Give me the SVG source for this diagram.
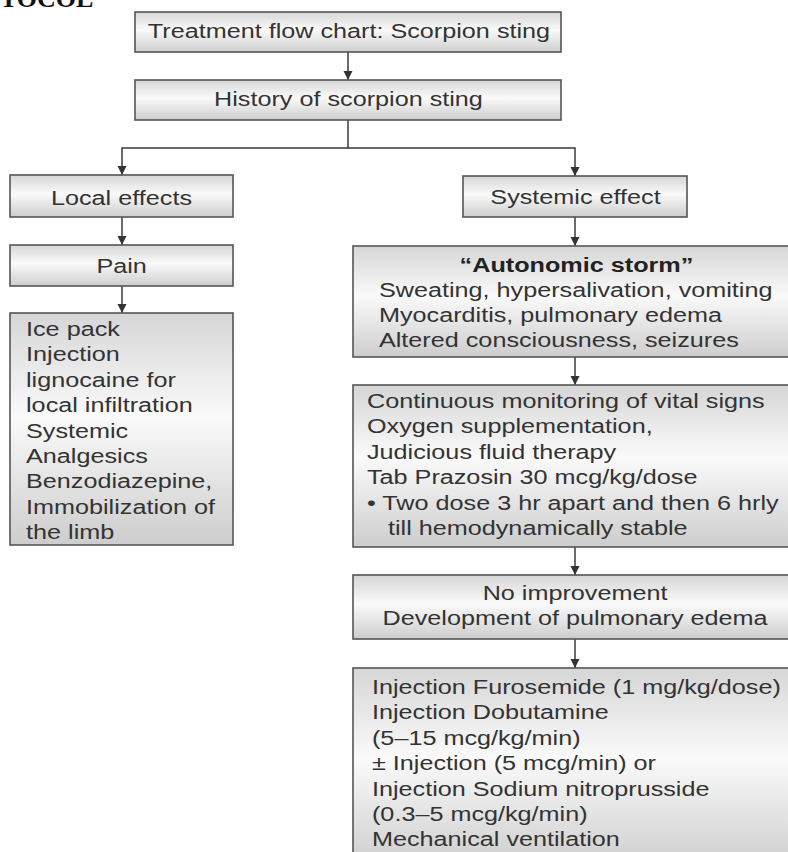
<svg xmlns="http://www.w3.org/2000/svg" width="788" height="852" viewBox="0 0 788 852">
<defs>
<linearGradient id="g" x1="0" y1="0" x2="0" y2="1">
<stop offset="0" stop-color="#d6d6d6"/>
<stop offset="0.45" stop-color="#fafafa"/>
<stop offset="1" stop-color="#cdcdcd"/>
</linearGradient>
<marker id="ah" viewBox="0 0 10 10" refX="10" refY="5" markerWidth="9" markerHeight="10" markerUnits="userSpaceOnUse" orient="auto">
<path d="M0,0 L10,5 L0,10 Z" fill="#333"/>
</marker>
<style>
.b{fill:url(#g);stroke:#555;stroke-width:1.6}
.t{font-family:"Liberation Sans",Arial,sans-serif;font-size:21px;fill:#333;transform:scale(1.2,1)}
.c{text-anchor:middle}
.bd{font-weight:bold;fill:#222}
.ln{fill:none;stroke:#3a3a3a;stroke-width:1.5}
</style>
</defs>
<rect width="788" height="852" fill="#fff"/>
<text x="0" y="6.5" style="font-family:'Liberation Serif','Times New Roman',serif;font-weight:bold;font-size:26px;fill:#111">TOCOL</text>

<g id="connectors">
<line class="ln" x1="348" y1="52" x2="348" y2="80" marker-end="url(#ah)"/>
<polyline class="ln" points="348,120 348,148 122,148 122,175" marker-end="url(#ah)"/>
<polyline class="ln" points="348,148 575,148 575,176" marker-end="url(#ah)"/>
<line class="ln" x1="122" y1="217" x2="122" y2="245" marker-end="url(#ah)"/>
<line class="ln" x1="122" y1="286" x2="122" y2="313" marker-end="url(#ah)"/>
<line class="ln" x1="575" y1="217" x2="575" y2="246" marker-end="url(#ah)"/>
<line class="ln" x1="575" y1="357" x2="575" y2="385" marker-end="url(#ah)"/>
<line class="ln" x1="575" y1="547" x2="575" y2="575" marker-end="url(#ah)"/>
<line class="ln" x1="575" y1="639" x2="575" y2="668" marker-end="url(#ah)"/>
</g>

<g id="n-title">
<rect class="b" x="135" y="12" width="426" height="40"/>
<text class="t c" x="290.8" y="37.8">Treatment flow chart: Scorpion sting</text>
</g>
<g id="n-history">
<rect class="b" x="135" y="80" width="426" height="40"/>
<text class="t c" x="290.4" y="106.5">History of scorpion sting</text>
</g>
<g id="n-local">
<rect class="b" x="10" y="175" width="223" height="42"/>
<text class="t c" x="101.25" y="205.3">Local effects</text>
</g>
<g id="n-systemic">
<rect class="b" x="463" y="176" width="224" height="41"/>
<text class="t c" x="479.6" y="204">Systemic effect</text>
</g>
<g id="n-pain">
<rect class="b" x="10" y="245" width="223" height="41"/>
<text class="t c" x="101.4" y="273">Pain</text>
</g>
<g id="n-localtx">
<rect class="b" x="10" y="313" width="223" height="232"/>
<text class="t" x="21.7" y="336">Ice pack</text>
<text class="t" x="21.7" y="361.4">Injection</text>
<text class="t" x="21.7" y="386.8">lignocaine for</text>
<text class="t" x="21.7" y="412.2">local infiltration</text>
<text class="t" x="21.7" y="437.6">Systemic</text>
<text class="t" x="21.7" y="463">Analgesics</text>
<text class="t" x="21.7" y="488.4">Benzodiazepine,</text>
<text class="t" x="21.7" y="513.8">Immobilization of</text>
<text class="t" x="21.7" y="539.2">the limb</text>
</g>
<g id="n-storm">
<rect class="b" x="353" y="246" width="450" height="111"/>
<text class="t c bd" x="480.4" y="271.7">“Autonomic storm”</text>
<text class="t" x="315.8" y="296.8">Sweating, hypersalivation, vomiting</text>
<text class="t" x="315.8" y="322">Myocarditis, pulmonary edema</text>
<text class="t" x="315.8" y="347.2">Altered consciousness, seizures</text>
</g>
<g id="n-monitor">
<rect class="b" x="353" y="385" width="450" height="162"/>
<text class="t" x="305.8" y="407.6">Continuous monitoring of vital signs</text>
<text class="t" x="305.8" y="433.1">Oxygen supplementation,</text>
<text class="t" x="305.8" y="458.6">Judicious fluid therapy</text>
<text class="t" x="305.8" y="484.1">Tab Prazosin 30 mcg/kg/dose</text>
<text class="t" x="305.8" y="509.6">• Two dose 3 hr apart and then 6 hrly</text>
<text class="t" x="323.3" y="535.1">till hemodynamically stable</text>
</g>
<g id="n-noimp">
<rect class="b" x="353" y="575" width="450" height="64"/>
<text class="t c" x="479.2" y="599.6">No improvement</text>
<text class="t c" x="479.2" y="625">Development of pulmonary edema</text>
</g>
<g id="n-final">
<rect class="b" x="353" y="668" width="450" height="200"/>
<text class="t" x="310" y="694">Injection Furosemide (1 mg/kg/dose)</text>
<text class="t" x="310" y="719.4">Injection Dobutamine</text>
<text class="t" x="310" y="744.8">(5–15 mcg/kg/min)</text>
<text class="t" x="310" y="770.2">± Injection (5 mcg/min) or</text>
<text class="t" x="310" y="795.6">Injection Sodium nitroprusside</text>
<text class="t" x="310" y="821">(0.3–5 mcg/kg/min)</text>
<text class="t" x="310" y="846.4">Mechanical ventilation</text>
</g>
</svg>
